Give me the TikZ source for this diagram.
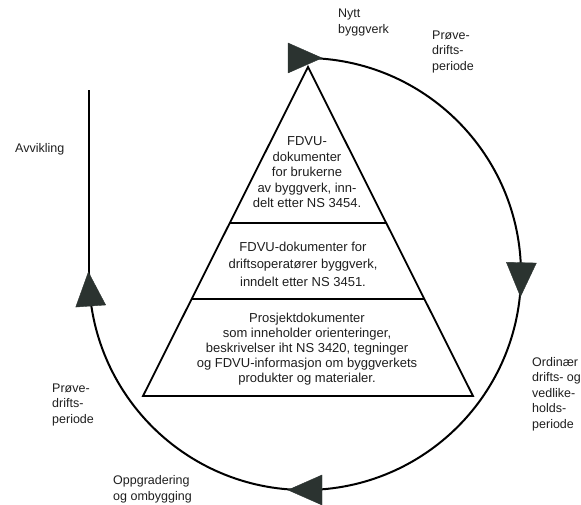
\documentclass[tikz,border=0pt]{standalone}
\usepackage{fontspec}
\setmainfont{Liberation Sans}
\usepackage{tikz}
\usetikzlibrary{calc}
\definecolor{cdark}{HTML}{2B3330}
\definecolor{ctext}{HTML}{1E1E1E}

\begin{document}
\begin{tikzpicture}[x=1pt, y=1pt,
  phase/.style={font=\fontsize{12.5}{15.5}\selectfont, text=ctext, align=left, anchor=west, inner sep=0pt},
  doc/.style={font=\fontsize{13}{15.5}\selectfont, text=ctext, align=center, inner sep=0pt},
  ring/.style={line width=2pt, black},
  head/.style={fill=cdark, draw=cdark, line join=round}]
  \useasboundingbox (0,0) rectangle (581,505);

  % Life cycle: open circle, centre (c)
  \coordinate (c) at (305,231);
  \draw[ring] (c) ++(90:216) arc[start angle=90, end angle=-180, radius=216] coordinate (left);
  % Decommissioning goes straight up
  \coordinate (end) at (89,415);
  \draw[ring] (left) -- (end);
  % Arrow heads, clockwise
  \foreach \a in {90,-1.5,-90,-176}{
    \fill[head, shift={($(c)+(\a:216)$)}, rotate=\a-90] (17,0) -- (-17,15) -- (-17,-15) -- cycle;
  }

  % Document pyramid
  \coordinate (apex) at (308,438);
  \coordinate (bl) at (143,109);
  \coordinate (br) at (473,109);
  \draw[line width=1.8pt, line join=miter] (bl) -- (apex) -- (br) -- cycle;
  \draw[line width=1.2pt] ($(apex)!0.474!(bl)$) -- ($(apex)!0.474!(br)$);
  \draw[line width=1.2pt] ($(apex)!0.705!(bl)$) -- ($(apex)!0.705!(br)$);

  \node[doc] (users) at (307,332.5) {FDVU-\\dokumenter\\for brukerne\\av byggverk, inn-\\delt etter NS 3454.};
  \node[doc, font=\fontsize{13}{17.5}\selectfont] (operators) at (303,241) {FDVU-dokumenter for\\driftsoperatører byggverk,\\inndelt etter NS 3451.};
  \node[doc, font=\fontsize{13}{15}\selectfont] (project) at (307,155.5) {Prosjektdokumenter\\som inneholder orienteringer,\\beskrivelser iht NS 3420, tegninger\\og FDVU-informasjon om byggverkets\\produkter og materialer.};

  % Phase labels
  \node[phase] (new) at (338,482.5) {Nytt\\byggverk};
  \node[phase] (trial1) at (432,453) {Prøve-\\drifts-\\periode};
  \node[phase] (ordinary) at (532,111) {Ordinær\\drifts- og\\vedlike-\\holds-\\periode};
  \node[phase] (upgrade) at (113,15.5) {Oppgradering\\og ombygging};
  \node[phase] (trial2) at (52,100) {Prøve-\\drifts-\\periode};
  \node[phase] (decom) at (15,356) {Avvikling};
\end{tikzpicture}
\end{document}
